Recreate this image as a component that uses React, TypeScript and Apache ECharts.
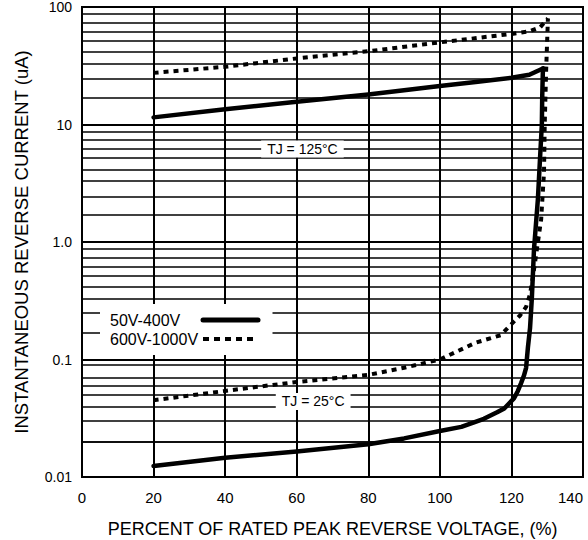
import React, { useEffect, useRef } from "react";
import * as echarts from "echarts";

const FONT = "'Liberation Sans', Arial, sans-serif";

// Axis ticks / labels
const xMin = 0;
const xMax = 140;
const xInterval = 20;
const yTickLabels: Record<string, string> = {
  "-2": "0.01",
  "-1": "0.1",
  "0": "1.0",
  "1": "10",
  "2": "100",
};
// minor grid lines inside each decade (as drawn on the reference sheet)
const minorMultipliers = [1.7, 2.45, 3.3, 4.15, 5.2, 6.2, 7.35, 8.7];
const decades = [0.01, 0.1, 1, 10];

const seriesNames = ["50V-400V", "600V-1000V"];

// TJ = 125°C curves
const hot50to400: [number, number][] = [
  [20, 11.5], [40, 13.5], [60, 15.6], [80, 18], [100, 21.3], [110, 23],
  [120, 25], [125, 26.5], [128.8, 30],
];
const hot600to1000: [number, number][] = [
  [20, 27.5], [40, 31], [60, 36.5], [80, 42], [100, 50], [120, 59],
  [125, 62], [128, 67], [130.2, 80],
];
// TJ = 25°C curves
const cold50to400: [number, number][] = [
  [20, 0.0124], [40, 0.0146], [60, 0.0165], [80, 0.019], [90, 0.0213],
  [100, 0.0246], [106, 0.0267], [112.3, 0.0313], [116, 0.0355],
  [118, 0.0383], [120.7, 0.0467], [121.8, 0.054], [122.7, 0.063],
  [123.5, 0.073], [124.1, 0.085], [124.6, 0.126], [125.2, 0.185],
  [125.7, 0.33], [126.3, 0.86], [127.4, 2.33], [128, 5.2], [128.5, 10],
  [128.6, 17], [128.8, 30],
];
const cold600to1000: [number, number][] = [
  [20, 0.045], [40, 0.054], [60, 0.0644], [80, 0.074], [90, 0.085],
  [100, 0.1], [110, 0.139], [117, 0.161], [120, 0.2], [122.4, 0.237],
  [124.1, 0.28], [125.2, 0.36], [126.3, 0.58], [127.3, 0.95], [128.3, 1.55],
  [129.1, 3.9], [129.3, 10], [129.7, 29], [130.2, 80],
];

const annotations = [
  { text: "TJ = 125°C", x: 61.6, y: 6.2 },
  { text: "TJ = 25°C", x: 64.6, y: 0.044 },
];

const solidStyle = { color: "#000", width: 4.5, type: "solid" as const, cap: "round" as const, join: "round" as const };
const dotStyle = { color: "#000", width: 4, type: [5, 5] as number[], cap: "butt" as const, join: "round" as const };

export default function App() {
  const ref = useRef<HTMLDivElement>(null);
  useEffect(() => {
    if (!ref.current) return;
    const chart = echarts.init(ref.current, undefined, { renderer: "svg" });
    const minorLines: { yAxis: number }[] = [];
    decades.forEach((d) => minorMultipliers.forEach((m) => minorLines.push({ yAxis: d * m })));

    const base = { type: "line" as const, symbol: "none", smooth: false, z: 3, silent: true, color: "#000" };

    chart.setOption({
      animation: false,
      textStyle: { fontFamily: FONT, color: "#000" },
      grid: {
        left: 82,
        right: 5,
        top: 7,
        bottom: 63,
        show: true,
        borderColor: "#000",
        borderWidth: 2,
        containLabel: false,
        outerBoundsMode: "none",
      },
      legend: {
        orient: "vertical",
        left: 100,
        top: 304,
        align: "right",
        padding: [8, 12, 8, 10],
        backgroundColor: "#fff",
        itemGap: 3,
        itemWidth: 55,
        itemHeight: 12,
        selectedMode: false,
        itemStyle: { opacity: 0 },
        formatter: "{a|{name}}",
        textStyle: {
          fontFamily: FONT,
          fontSize: 16,
          color: "#000",
          rich: { a: { fontFamily: FONT, fontSize: 16, color: "#000", width: 88, align: "left" } },
        },
        data: [
          { name: seriesNames[0], lineStyle: { width: 5, type: "solid", color: "#000" }, itemStyle: { opacity: 0 } },
          { name: seriesNames[1], lineStyle: { width: 4, type: [6, 5], color: "#000" }, itemStyle: { opacity: 0 } },
        ],
      },
      xAxis: {
        type: "value",
        min: xMin,
        max: xMax,
        interval: xInterval,
        name: "PERCENT OF RATED PEAK REVERSE VOLTAGE, (%)",
        nameLocation: "middle",
        nameGap: 43,
        nameTextStyle: { fontFamily: FONT, fontSize: 18, color: "#000" },
        axisLine: { show: true, lineStyle: { color: "#000", width: 2 } },
        axisTick: { show: false },
        axisLabel: { fontFamily: FONT, fontSize: 15, color: "#000", margin: 13, alignMaxLabel: "right" },
        splitLine: { show: true, lineStyle: { color: "#000", width: 2 } },
      },
      yAxis: {
        type: "log",
        logBase: 10,
        min: 0.01,
        max: 100,
        name: "INSTANTANEOUS REVERSE CURRENT (uA)",
        nameLocation: "middle",
        nameGap: 51,
        nameRotate: 90,
        nameTextStyle: { fontFamily: FONT, fontSize: 18.5, color: "#000" },
        axisLine: { show: true, lineStyle: { color: "#000", width: 2 } },
        axisTick: { show: false },
        axisLabel: {
          fontFamily: FONT,
          fontSize: 14,
          color: "#000",
          margin: 10,
          formatter: (v: number) => yTickLabels[String(Math.round(Math.log10(v)))] ?? "",
        },
        splitLine: { show: true, lineStyle: { color: "#000", width: 2 } },
      },
      series: [
        {
          type: "line",
          name: "grid",
          data: [],
          symbol: "none",
          z: 1,
          silent: true,
          markLine: {
            silent: true,
            z: 1,
            symbol: ["none", "none"],
            label: { show: false },
            lineStyle: { color: "#000", width: 1.7, type: "solid" },
            emphasis: { disabled: true },
            data: minorLines,
          },
          markPoint: {
            silent: true,
            z: 6,
            symbol: "rect",
            symbolSize: 1,
            itemStyle: { color: "rgba(0,0,0,0)" },
            label: {
              show: true,
              position: "inside",
              fontFamily: FONT,
              fontSize: 14,
              color: "#000",
              backgroundColor: "#fff",
              padding: [2, 6, 1, 6],
              formatter: (p: any) => p.name,
            },
            data: annotations.map((a) => ({ name: a.text, coord: [a.x, a.y] })),
          },
        },
        { ...base, name: seriesNames[0], data: hot50to400, lineStyle: solidStyle },
        { ...base, name: seriesNames[1], data: hot600to1000, lineStyle: dotStyle },
        { ...base, name: seriesNames[0], data: cold50to400, lineStyle: solidStyle },
        { ...base, name: seriesNames[1], data: cold600to1000, lineStyle: dotStyle },
      ],
    });
    return () => chart.dispose();
  }, []);
  return <div ref={ref} style={{ position: "fixed", left: 0, top: 0, width: 588, height: 540, background: "#fff" }} />;
}
